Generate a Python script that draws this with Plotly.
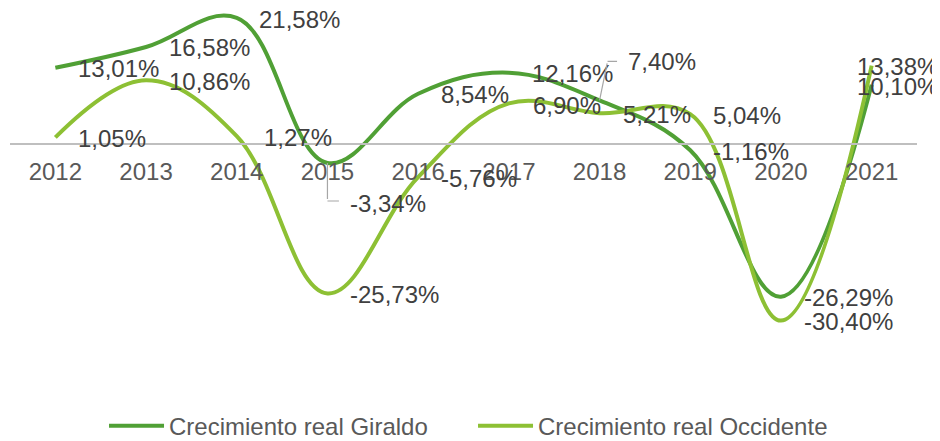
import plotly.graph_objects as go

# Crecimiento real (%) por año
years = ["2012", "2013", "2014", "2015", "2016", "2017", "2018", "2019", "2020", "2021"]
giraldo = [13.01, 16.58, 21.58, -3.34, 8.54, 12.16, 7.40, -1.16, -26.29, 10.10]
occidente = [1.05, 10.86, 1.27, -25.73, -5.76, 6.90, 5.21, 5.04, -30.40, 13.38]

C_GIR = "#50A035"
C_OCC = "#8DC034"
TXT = "#404040"
FONT = "Liberation Sans, Arial, sans-serif"
FS = 24

# plot area runs down to the bottom so the legend sits inside it
Y_MIN, Y_MAX = -52.1, 23.1


def pct(v):
    return f"{v:.2f}".replace(".", ",") + "%"


fig = go.Figure()
fig.add_trace(go.Scatter(x=years, y=giraldo, mode="lines", name="Crecimiento real Giraldo",
                         line=dict(color=C_GIR, width=4, shape="spline", smoothing=1.1)))
fig.add_trace(go.Scatter(x=years, y=occidente, mode="lines", name="Crecimiento real Occidente",
                         line=dict(color=C_OCC, width=4, shape="spline", smoothing=1.1)))

# label offsets in px (dx right, dy down); default is right of the point
default_off = (21, 1)
gir_off = {"2014": (20, 2), "2015": (21, 40), "2018": (26, -39), "2021": (-17, 2)}
occ_off = {"2014": (25, 1), "2017": (22, 2), "2021": (-17, 1)}

# category axis: annotations are placed by category index
for series, offs in ((giraldo, gir_off), (occidente, occ_off)):
    for i, (yr, v) in enumerate(zip(years, series)):
        dx, dy = offs.get(yr, default_off)
        fig.add_annotation(x=i, y=v, text=pct(v), showarrow=False, xanchor="left", yanchor="middle",
                           xshift=dx, yshift=-dy, font=dict(size=FS, color=TXT, family=FONT))

# elbow leader lines for the moved labels
leader = dict(showarrow=True, arrowhead=0, arrowwidth=1.2, arrowcolor="#A6A6A6", text=" ",
              font=dict(size=1), standoff=0, startstandoff=0)
i15 = years.index("2015")
fig.add_annotation(x=i15, y=giraldo[i15], ax=0, ay=38, **leader)
fig.add_annotation(x=i15, y=giraldo[i15], yshift=-38, ax=13, ay=0, **leader)
i18 = years.index("2018")
fig.add_annotation(x=i18, y=giraldo[i18], ax=8, ay=-39, **leader)
fig.add_annotation(x=i18, y=giraldo[i18], xshift=8, yshift=39, ax=11, ay=0, **leader)

# page body adds an 8px offset to the figure
fig.update_layout(
    width=932, height=441,
    margin=dict(l=2, r=23, t=1, b=0),
    plot_bgcolor="white", paper_bgcolor="white",
    font=dict(family=FONT, color="#595959", size=FS),
    showlegend=True,
    legend=dict(orientation="h", x=0.5105, xanchor="center", y=0.0477, yanchor="middle",
                bgcolor="rgba(0,0,0,0)",
                font=dict(size=FS, color="#595959"), entrywidth=299, itemwidth=55),
    hovermode=False,
)
fig.update_xaxes(type="category", range=[-0.5, 9.5], anchor="free",
                 position=(0 - Y_MIN) / (Y_MAX - Y_MIN),
                 showline=True, linecolor="#BFBFBF", linewidth=2, ticks="",
                 showgrid=False, zeroline=False, ticklabelstandoff=7,
                 tickfont=dict(size=FS, color="#595959"))
fig.update_yaxes(range=[Y_MIN, Y_MAX], visible=False, showgrid=False, zeroline=False)

fig.write_html("out.html")
